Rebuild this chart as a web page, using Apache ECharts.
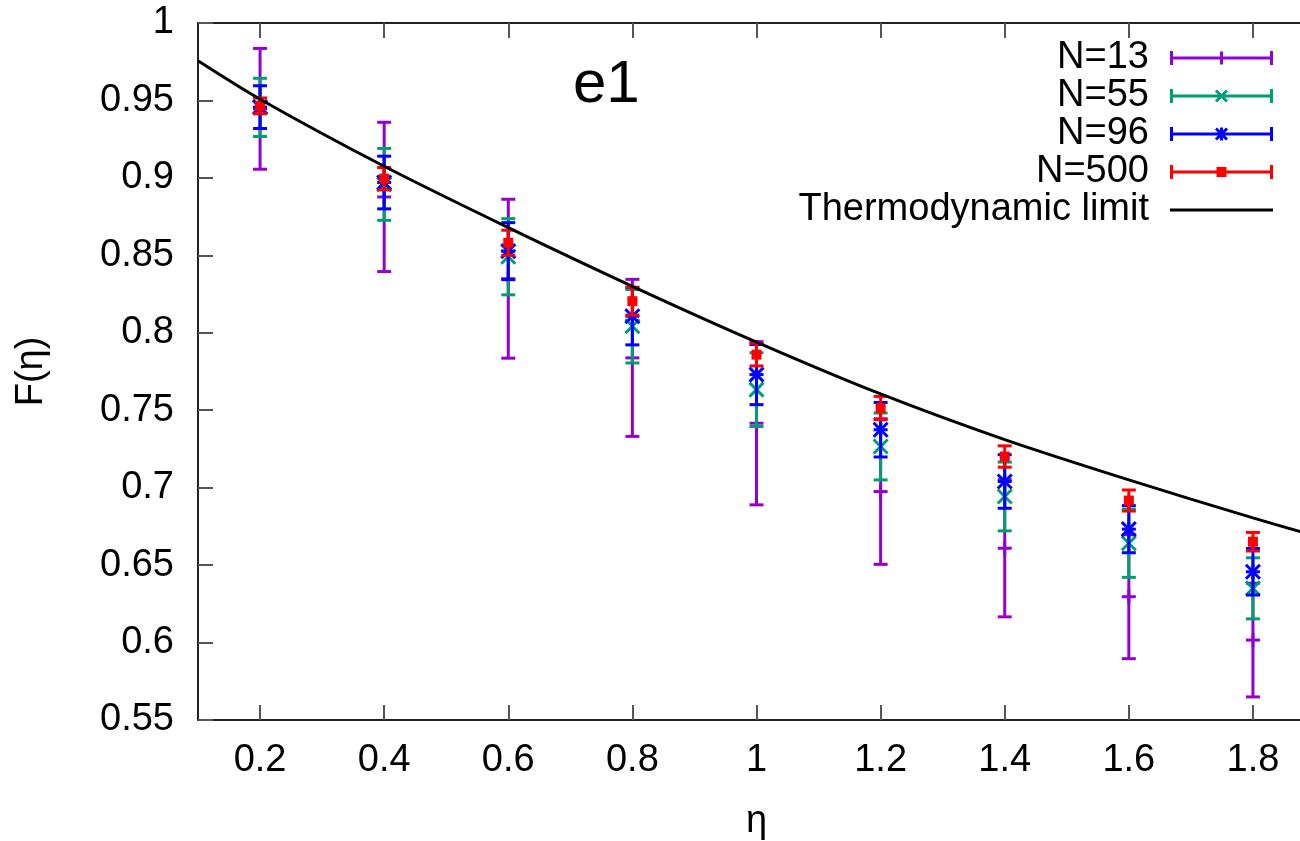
<!DOCTYPE html>
<html>
<head>
<meta charset="utf-8">
<script src="https://cdn.jsdelivr.net/npm/echarts@6/dist/echarts.min.js"></script>
<style>
html,body{margin:0;padding:0;background:#fff;overflow:hidden;}
#chart{width:1300px;height:841px;}
</style>
</head>
<body>
<div id="chart"></div>
<script>
// ---- data ----
const etaValues = [0.2, 0.4, 0.6, 0.8, 1.0, 1.2, 1.4, 1.6, 1.8];
const xTickValues = [0.2, 0.4, 0.6, 0.8, 1.0, 1.2, 1.4, 1.6, 1.8];

const n13Mean = [0.9446, 0.8877, 0.8349, 0.7838, 0.7416, 0.6975, 0.6609, 0.6296, 0.6016];
const n13Err  = [0.0390, 0.0482, 0.0513, 0.0507, 0.0527, 0.0470, 0.0443, 0.0400, 0.0367];

const n55Mean = [0.9455, 0.8958, 0.8491, 0.8042, 0.7633, 0.7266, 0.6943, 0.6641, 0.6350];
const n55Err  = [0.0188, 0.0232, 0.0246, 0.0237, 0.0238, 0.0216, 0.0222, 0.0220, 0.0197];

const n96Mean = [0.9457, 0.8970, 0.8527, 0.8107, 0.7730, 0.7374, 0.7040, 0.6732, 0.6457];
const n96Err  = [0.0138, 0.0170, 0.0184, 0.0185, 0.0194, 0.0176, 0.0173, 0.0152, 0.0150];

const n500Mean = [0.9465, 0.8995, 0.8581, 0.8204, 0.7859, 0.7514, 0.7201, 0.6917, 0.6651];
const n500Err  = [0.0051, 0.0072, 0.0081, 0.0090, 0.0073, 0.0075, 0.0069, 0.0068, 0.0060];

const limitEta   = [0.1, 0.2, 0.4, 0.6, 0.8, 1.0, 1.2, 1.4, 1.6, 1.8, 1.876];
const limitValue = [0.9756, 0.9508, 0.9075, 0.8679, 0.8300, 0.7940, 0.7605, 0.7310, 0.7050, 0.6805, 0.6716];

const seriesNames = ['N=13', 'N=55', 'N=96', 'N=500', 'Thermodynamic limit'];
const seriesColors = ['#9400d3', '#009e73', '#0000ff', '#ff0000', '#000000'];
const panelLabel = 'e1';
const xName = 'η';
const yName = 'F(η)';

// ---- helpers ----
const FONT = 'Liberation Sans, Arial, Helvetica, sans-serif';

function rows(mean, err) {
  return etaValues.map((x, i) => [x, mean[i], err[i]]);
}

function errorBarRenderer(marker, color) {
  return function (params, api) {
    const x = api.value(0), m = api.value(1), e = api.value(2);
    const c = api.coord([x, m]);
    const t = api.coord([x, m + e]);
    const b = api.coord([x, m - e]);
    const cw = 7;
    const st = { stroke: color, lineWidth: 3, fill: null };
    const ch = [
      { type: 'line', shape: { x1: c[0], y1: t[1], x2: c[0], y2: b[1] }, style: st },
      { type: 'line', shape: { x1: c[0] - cw, y1: t[1], x2: c[0] + cw, y2: t[1] }, style: st },
      { type: 'line', shape: { x1: c[0] - cw, y1: b[1], x2: c[0] + cw, y2: b[1] }, style: st }
    ];
    const s = 7;
    if (marker === 'plus' || marker === 'star') {
      ch.push({ type: 'line', shape: { x1: c[0] - 7, y1: c[1], x2: c[0] + 7, y2: c[1] }, style: st });
      ch.push({ type: 'line', shape: { x1: c[0], y1: c[1] - 7, x2: c[0], y2: c[1] + 7 }, style: st });
    }
    if (marker === 'cross' || marker === 'star') {
      ch.push({ type: 'line', shape: { x1: c[0] - s, y1: c[1] - s, x2: c[0] + s, y2: c[1] + s }, style: st });
      ch.push({ type: 'line', shape: { x1: c[0] - s, y1: c[1] + s, x2: c[0] + s, y2: c[1] - s }, style: st });
    }
    if (marker === 'square') {
      ch.push({ type: 'rect', shape: { x: c[0] - 5, y: c[1] - 5, width: 10, height: 10 }, style: { fill: color } });
    }
    return { type: 'group', children: ch };
  };
}

// legend icons (103 x 14 boxes)
const BAR = 'M0 0 L3 0 L3 5.5 L100 5.5 L100 0 L103 0 L103 14 L100 14 L100 8.5 L3 8.5 L3 14 L0 14 Z ';
const MK_PLUS = 'M50 0.5 L53 0.5 L53 13.5 L50 13.5 Z ';
const MK_X = 'M47.06 0.44 L58.06 11.44 L55.94 13.56 L44.94 2.56 Z M55.94 0.44 L58.06 2.56 L47.06 13.56 L44.94 11.44 Z ';
const MK_SQ = 'M46.5 2 L56.5 2 L56.5 12 L46.5 12 Z';
const icons = [
  'path://' + BAR + MK_PLUS,
  'path://' + BAR + MK_X,
  'path://' + BAR + MK_X + MK_PLUS,
  'path://' + BAR + MK_SQ,
  'path://M0 0 L103 0 L103 3 L0 3 Z'
];

const frameLine = { show: true, lineStyle: { color: '#222', width: 2 } };
const tickStyle = { color: '#555', width: 2 };

const chart = echarts.init(document.getElementById('chart'), null, { renderer: 'canvas' });

chart.setOption({
  animation: false,
  backgroundColor: '#ffffff',
  textStyle: { fontFamily: FONT },
  title: {
    text: panelLabel,
    left: 573, top: 55, padding: 0,
    textStyle: { fontSize: 60, fontWeight: 'normal', color: '#000', fontFamily: FONT }
  },
  legend: {
    orient: 'vertical',
    align: 'right',
    right: 27, top: 39, padding: 0,
    itemGap: 0,
    itemWidth: 103, itemHeight: 14,
    symbolKeepAspect: true,
    itemStyle: { borderWidth: 0 },
    lineStyle: { width: 0 },
    textStyle: { fontSize: 38, color: '#000', fontFamily: FONT, lineHeight: 38, padding: [0, 16, 0, 0] },
    data: seriesNames.map((n, i) => ({ name: n, icon: icons[i], itemStyle: { color: seriesColors[i], borderWidth: 0 } })),
    selectedMode: false
  },
  grid: { left: 198, right: -15, top: 23, bottom: 121, containLabel: false, outerBoundsMode: 'none' },
  xAxis: [{
    type: 'value', min: 0.1, max: 1.9,
    name: xName, nameLocation: 'middle', nameGap: 83,
    nameTextStyle: { fontSize: 38, color: '#000', fontFamily: FONT },
    axisLine: frameLine,
    axisTick: { show: true, inside: true, length: 15, lineStyle: tickStyle, customValues: xTickValues },
    axisLabel: { fontSize: 38, color: '#000', margin: 22, fontFamily: FONT, customValues: xTickValues,
      formatter: v => String(Math.round(v * 10) / 10) },
    splitLine: { show: false }
  }, {
    type: 'value', min: 0.1, max: 1.9, position: 'top',
    axisLine: frameLine,
    axisTick: { show: true, inside: true, length: 15, lineStyle: tickStyle, customValues: xTickValues },
    axisLabel: { show: false },
    splitLine: { show: false }
  }],
  yAxis: [{
    type: 'value', min: 0.55, max: 1, interval: 0.05,
    name: yName, nameLocation: 'middle', nameGap: 147,
    nameTextStyle: { fontSize: 38, color: '#000', fontFamily: FONT },
    axisLine: frameLine,
    axisTick: { show: true, inside: true, length: 15, lineStyle: tickStyle },
    axisLabel: { fontSize: 38, color: '#000', margin: 24, fontFamily: FONT,
      formatter: v => String(Math.round(v * 100) / 100) },
    splitLine: { show: false }
  }, {
    type: 'value', min: 0.55, max: 1, interval: 0.05, position: 'right',
    axisLine: frameLine,
    axisTick: { show: true, inside: true, length: 15, lineStyle: tickStyle },
    axisLabel: { show: false },
    splitLine: { show: false }
  }],
  series: [
    { name: seriesNames[0], type: 'custom', renderItem: errorBarRenderer('plus', seriesColors[0]),
      itemStyle: { color: seriesColors[0] }, encode: { x: 0, y: [1] }, data: rows(n13Mean, n13Err), z: 2 },
    { name: seriesNames[1], type: 'custom', renderItem: errorBarRenderer('cross', seriesColors[1]),
      itemStyle: { color: seriesColors[1] }, encode: { x: 0, y: [1] }, data: rows(n55Mean, n55Err), z: 3 },
    { name: seriesNames[2], type: 'custom', renderItem: errorBarRenderer('star', seriesColors[2]),
      itemStyle: { color: seriesColors[2] }, encode: { x: 0, y: [1] }, data: rows(n96Mean, n96Err), z: 4 },
    { name: seriesNames[3], type: 'custom', renderItem: errorBarRenderer('square', seriesColors[3]),
      itemStyle: { color: seriesColors[3] }, encode: { x: 0, y: [1] }, data: rows(n500Mean, n500Err), z: 5 },
    { name: seriesNames[4], type: 'line', smooth: 0.3, symbol: 'none', showSymbol: false,
      lineStyle: { color: seriesColors[4], width: 3 }, itemStyle: { color: seriesColors[4] },
      data: limitEta.map((x, i) => [x, limitValue[i]]), z: 6 }
  ]
});
</script>
</body>
</html>
